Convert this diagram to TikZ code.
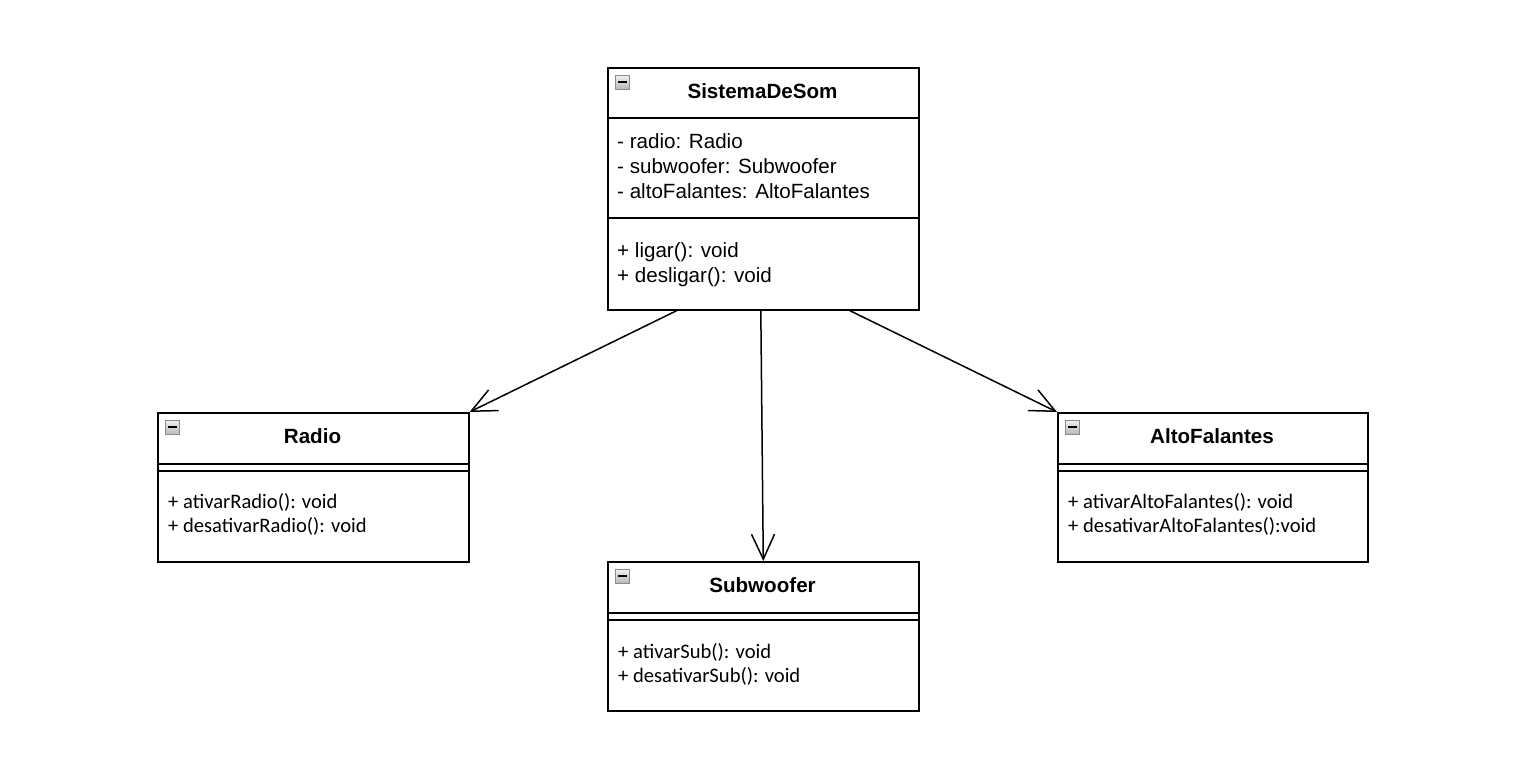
\documentclass[tikz,border=0pt]{standalone}
\usepackage{fontspec}
\setmainfont{Liberation Sans}
\newfontfamily\calib{Carlito}
\usetikzlibrary{arrows.meta,calc,shadings}

\tikzset{
  umlbox/.style={draw=black, line width=1.6pt, fill=white, anchor=north west,
    inner sep=0pt, minimum width=#1},
  divider/.style={line width=1.6pt},
  title/.style={font=\fontsize{20.6}{25}\selectfont\bfseries, anchor=base},
  attr/.style={font=\fontsize{20.6}{25}\selectfont, anchor=base west, inner sep=0pt},
  meth/.style={font=\calib\fontsize{20.6}{24}\selectfont, anchor=base west, inner sep=0pt},
  assoc/.style={line width=1.5pt, -{Straight Barb[length=25pt, width=23pt, line width=1.5pt]}},
  iconbox/.style={draw=gray!90, line width=0.9pt, top color=gray!10, bottom color=gray!55,
    minimum size=14pt, inner sep=0pt}
}

% small collapse marker in a class header
\newcommand{\collapsemark}[2]{%
  \node[iconbox] (#1) at #2 {};
  \draw[line width=1.7pt] ([xshift=-4.5pt]#1.center) -- ([xshift=4.5pt]#1.center);
}

\begin{document}
\begin{tikzpicture}[x=1pt, y=-1pt]
\useasboundingbox[fill=white] (0,0) rectangle (1535,764);

% ---------- SistemaDeSom ----------
\node[umlbox=311pt, minimum height=242pt] (sds) at (607,67) {};
\draw[divider] ([yshift=-51pt]sds.north west) -- ([yshift=-51pt]sds.north east);
\draw[divider] ([yshift=-151pt]sds.north west) -- ([yshift=-151pt]sds.north east);
\collapsemark{sdsicon}{(622,82)}
\node[title] (sdsname) at (762.5,98) {SistemaDeSom};
\node[attr] (sdsa1) at (617,148) {- radio: Radio};
\node[attr] (sdsa2) at (617,173) {- subwoofer: Subwoofer};
\node[attr] (sdsa3) at (617,198) {- altoFalantes: AltoFalantes};
\node[attr] (sdsm1) at (617,257) {+ ligar(): void};
\node[attr] (sdsm2) at (617,282) {+ desligar(): void};

% ---------- Radio ----------
\node[umlbox=311pt, minimum height=149pt] (radio) at (157,412) {};
\draw[divider] ([yshift=-52pt]radio.north west) -- ([yshift=-52pt]radio.north east);
\draw[divider] ([yshift=-59pt]radio.north west) -- ([yshift=-59pt]radio.north east);
\collapsemark{radioicon}{(172,427)}
\node[title] (radioname) at (312.5,443) {Radio};
\node[meth] (radiom1) at (168,508) {+ ativarRadio(): void};
\node[meth] (radiom2) at (168,532) {+ desativarRadio(): void};

% ---------- AltoFalantes ----------
\node[umlbox=310pt, minimum height=149pt] (alto) at (1057,412) {};
\draw[divider] ([yshift=-52pt]alto.north west) -- ([yshift=-52pt]alto.north east);
\draw[divider] ([yshift=-59pt]alto.north west) -- ([yshift=-59pt]alto.north east);
\collapsemark{altoicon}{(1072,427)}
\node[title] (altoname) at (1212,443) {AltoFalantes};
\node[meth] (altom1) at (1068,508) {+ ativarAltoFalantes(): void};
\node[meth] (altom2) at (1068,532) {+ desativarAltoFalantes():void};

% ---------- Subwoofer ----------
\node[umlbox=311pt, minimum height=149pt] (sub) at (607,561) {};
\draw[divider] ([yshift=-52pt]sub.north west) -- ([yshift=-52pt]sub.north east);
\draw[divider] ([yshift=-59pt]sub.north west) -- ([yshift=-59pt]sub.north east);
\collapsemark{subicon}{(622,576)}
\node[title] (subname) at (762.5,592) {Subwoofer};
\node[meth] (subm1) at (618,658) {+ ativarSub(): void};
\node[meth] (subm2) at (618,682) {+ desativarSub(): void};

% ---------- associations ----------
\draw[assoc] ($(sds.south)+(-86.5,0)$) -- (radio.north east);
\draw[assoc] ($(sds.south)+(-2.5,0)$) -- (sub.north);
\draw[assoc] ($(sds.south)+(86.5,0)$) -- (alto.north west);
\end{tikzpicture}
\end{document}
